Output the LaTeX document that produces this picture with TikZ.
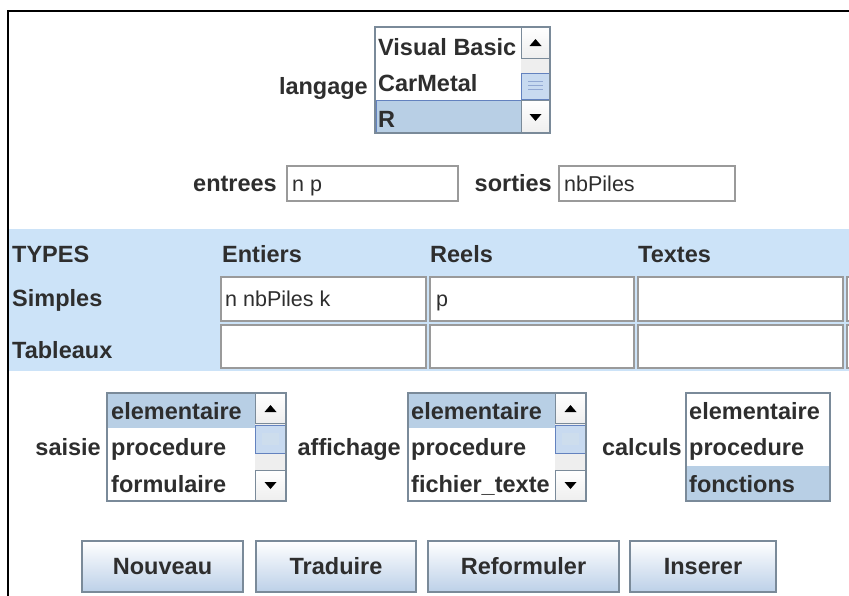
\documentclass[tikz,border=0pt]{standalone}
\usepackage{fontspec}
\setmainfont{Liberation Sans}
\definecolor{txt}{HTML}{2E2E2E}
\definecolor{band}{HTML}{CCE3F8}
\definecolor{selblue}{HTML}{B8CFE5}
\definecolor{selborder}{HTML}{6382BF}
\definecolor{lbborder}{HTML}{7A8A99}
\definecolor{fieldgray}{HTML}{9A9A9A}
\definecolor{btnblue}{HTML}{BCD0E8}
\definecolor{track}{HTML}{EEEEEE}
\definecolor{thumb}{HTML}{C8DAF0}
\newcommand\guifont{\fontsize{23.5}{27}\selectfont\bfseries}
\newcommand\fieldfont{\fontsize{21.5}{25}\selectfont}
\tikzset{
  lbl/.style={font=\guifont, text=txt, inner sep=0pt, anchor=base east},
  hdr/.style={font=\guifont, text=txt, inner sep=0pt, anchor=base west},
  item/.style={font=\guifont, text=txt, inner sep=0pt, anchor=base west},
  ftext/.style={font=\fieldfont, text=txt, inner sep=0pt, anchor=base west},
  listbox/.style={draw=lbborder, line width=1.5pt, fill=white},
  tfield/.style={draw=fieldgray, line width=1.5pt, fill=white},
  cellfield/.style={draw=fieldgray, line width=2.2pt, fill=white},
  sbbtn/.style={draw=lbborder, line width=1pt, top color=white, bottom color=track},
  sbthumb/.style={draw=selborder, line width=1pt, fill=thumb},
  arrowtri/.style={fill=black},
  btn/.style={draw=lbborder, line width=1.5pt, top color=white, bottom color=btnblue,
    font=\guifont, text=txt, inner sep=0pt}
}
\begin{document}
\begin{tikzpicture}[x=1pt,y=-1pt]
\useasboundingbox (0,0) rectangle (849,595);
\fill[white] (0,0) rectangle (849,595);
\draw[line width=2pt] (8,597) -- (8,11) -- (851,11);

% ---------- langage ----------
\node[lbl] (langage) at (368,94) {langage};
\draw[listbox] (375,27) rectangle (550,133);
\fill[selblue] (376,100) rectangle (521,132);
\draw[selborder, line width=1pt] (376,100) rectangle (521,132);
\node[item] (vb) at (378,55) {Visual Basic};
\node[item] (cm) at (378,91) {CarMetal};
\node[item] (r) at (378,127) {R};
\fill[track] (521,58) rectangle (550,100);
\draw[sbbtn] (521,27) rectangle (550,58);
\fill[arrowtri] (529.5,46) -- (541.5,46) -- (535.5,39) -- cycle;
\draw[sbthumb] (521,73) rectangle (550,99);
\foreach \yy in {81,85,89} \draw[selborder!70, line width=0.8pt] (528,\yy) -- (543,\yy);
\draw[sbbtn] (521,100) rectangle (550,133);
\fill[arrowtri] (529.5,114) -- (541.5,114) -- (535.5,121) -- cycle;
\draw[lbborder, line width=1.5pt] (375,27) rectangle (550,133);

% ---------- entrees / sorties ----------
\node[lbl] (entrees) at (277,191) {entrees};
\draw[tfield] (287,166) rectangle (458,201);
\node[ftext] (np) at (292,191) {n p};
\node[lbl] (sorties) at (552,191) {sorties};
\draw[tfield] (559,166) rectangle (735,201);
\node[ftext] (nbp) at (564,191) {nbPiles};

% ---------- table ----------
\fill[band] (9,229) rectangle (849,371);
\node[hdr] (types) at (12,262) {TYPES};
\node[hdr] (entiers) at (222,262) {Entiers};
\node[hdr] (reels) at (430,262) {Reels};
\node[hdr] (textes) at (638,262) {Textes};
\node[hdr] (simples) at (12,306) {Simples};
\node[hdr] (tableaux) at (12,358) {Tableaux};
\foreach \xa/\xb in {221/426, 430/634, 638/843, 847/1000} {
  \draw[cellfield] (\xa,277) rectangle (\xb,321);
  \draw[cellfield] (\xa,325) rectangle (\xb,368);
}
\node[ftext] (c11) at (225,306) {n nbPiles k};
\node[ftext] (c12) at (436,306) {p};

% ---------- saisie ----------
\node[lbl] (saisie) at (101,455) {saisie};
\draw[listbox] (107,393) rectangle (286,501);
\fill[selblue] (108,394) rectangle (255,428);
\node[item] (s1) at (111,419) {elementaire};
\node[item] (s2) at (111,455) {procedure};
\node[item] (s3) at (111,492) {formulaire};
\fill[track] (255,423) rectangle (286,470);
\draw[sbbtn] (255,393) rectangle (286,423);
\fill[arrowtri] (264.5,412) -- (276.5,412) -- (270.5,405) -- cycle;
\draw[sbthumb] (255,425) rectangle (286,453);
\fill[selblue!70!white] (262,433) rectangle (279,445);
\draw[sbbtn] (255,470) rectangle (286,501);
\fill[arrowtri] (264.5,482) -- (276.5,482) -- (270.5,489) -- cycle;
\draw[lbborder, line width=1.5pt] (107,393) rectangle (286,501);

% ---------- affichage ----------
\node[lbl] (affichage) at (401,455) {affichage};
\draw[listbox] (408,393) rectangle (586,501);
\fill[selblue] (409,394) rectangle (555,428);
\node[item] (a1) at (411,419) {elementaire};
\node[item] (a2) at (411,455) {procedure};
\node[item] (a3) at (411,492) {fichier\_texte};
\fill[track] (555,423) rectangle (586,470);
\draw[sbbtn] (555,393) rectangle (586,423);
\fill[arrowtri] (564.5,412) -- (576.5,412) -- (570.5,405) -- cycle;
\draw[sbthumb] (555,425) rectangle (586,453);
\fill[selblue!70!white] (562,433) rectangle (579,445);
\draw[sbbtn] (555,470) rectangle (586,501);
\fill[arrowtri] (564.5,482) -- (576.5,482) -- (570.5,489) -- cycle;
\draw[lbborder, line width=1.5pt] (408,393) rectangle (586,501);

% ---------- calculs ----------
\node[lbl] (calculs) at (682,455) {calculs};
\draw[listbox] (686,393) rectangle (830,501);
\fill[selblue] (687,466) rectangle (829,500);
\node[item] (k1) at (689,419) {elementaire};
\node[item] (k2) at (689,455) {procedure};
\node[item] (k3) at (689,492) {fonctions};
\draw[lbborder, line width=1.5pt] (686,393) rectangle (830,501);

% ---------- buttons ----------
\node[btn, minimum width=161pt, minimum height=51pt] (nouveau) at (162.5,566.5) {Nouveau};
\node[btn, minimum width=160pt, minimum height=51pt] (traduire) at (336,566.5) {Traduire};
\node[btn, minimum width=191pt, minimum height=51pt] (reformuler) at (523.5,566.5) {Reformuler};
\node[btn, minimum width=146pt, minimum height=51pt] (inserer) at (703,566.5) {Inserer};
\end{tikzpicture}
\end{document}
